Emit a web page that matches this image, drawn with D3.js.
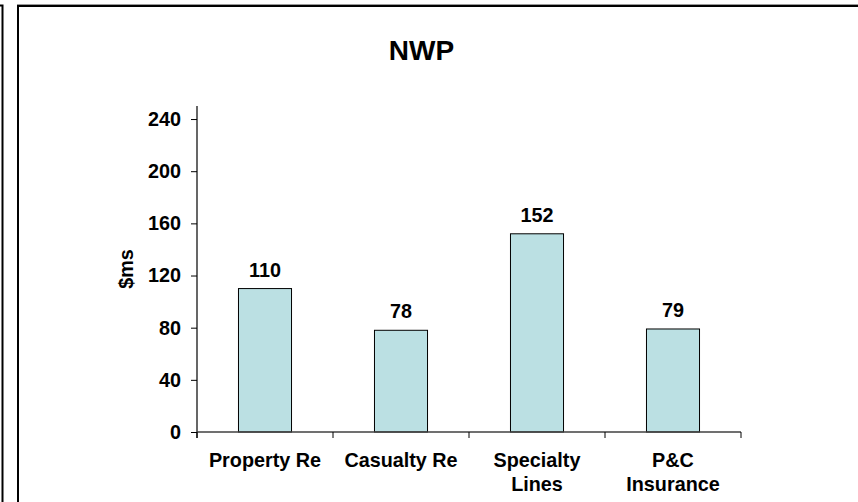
<!DOCTYPE html>
<html>
<head>
<meta charset="utf-8">
<script src="https://cdn.jsdelivr.net/npm/d3@7"></script>
<style>
  html, body { margin: 0; padding: 0; background: #fff; }
  svg { display: block; font-family: Arial, "Liberation Sans", Helvetica, sans-serif; }
</style>
</head>
<body>
<svg id="chart" width="858" height="502"></svg>
<script>
// Net written premiums by segment
const categories = ["Property Re", "Casualty Re", "Specialty Lines", "P&C Insurance"];
const categoryLines = [["Property Re"], ["Casualty Re"], ["Specialty", "Lines"], ["P&C", "Insurance"]];
const nwpValues = [110, 78, 152, 79];
const yTicks = [0, 40, 80, 120, 160, 200, 240];
const chartTitle = "NWP";
const yAxisTitle = "$ms";

const svg = d3.select("#chart");
const labelSize = 19.8;

// Frames: neighbouring panel edge and this panel's border
svg.append("path")
  .attr("d", "M0,5.5H2.5V502")
  .attr("fill", "none").attr("stroke", "#000").attr("stroke-width", 2);
svg.append("line")
  .attr("x1", 17).attr("x2", 858).attr("y1", 4.5).attr("y2", 4.5)
  .attr("stroke", "#999").attr("stroke-width", 1);
svg.append("path")
  .attr("d", "M18,502V6H858")
  .attr("fill", "none").attr("stroke", "#000").attr("stroke-width", 2);

const plot = { left: 197, right: 741, top: 106, bottom: 432 };

const x = d3.scaleBand()
  .domain(categories)
  .range([plot.left, plot.right])
  .paddingInner(0.61)
  .paddingOuter(0.305);

const y = d3.scaleLinear()
  .domain([0, 250])
  .range([plot.bottom, plot.top]);

// Title
svg.append("text")
  .attr("x", 421.5).attr("y", 60)
  .attr("text-anchor", "middle")
  .attr("font-size", 28).attr("font-weight", "bold")
  .text(chartTitle);

// Y axis
const yAxis = svg.append("g")
  .attr("transform", `translate(${plot.left},0)`)
  .call(d3.axisLeft(y).tickValues(yTicks).tickSize(6).tickPadding(10).tickFormat(d3.format("d")));
yAxis.select(".domain").remove();
yAxis.selectAll(".tick line").attr("stroke", "#000");
yAxis.selectAll(".tick text")
  .attr("font-size", labelSize).attr("font-weight", "bold")
  .attr("font-family", "Arial, 'Liberation Sans', sans-serif")
  .attr("fill", "#000");
svg.append("line")
  .attr("x1", plot.left).attr("x2", plot.left)
  .attr("y1", y(250)).attr("y2", y(0) + 6)
  .attr("stroke", "#000").attr("stroke-width", 1.2);

// Y axis title
svg.append("text")
  .attr("transform", `translate(133,${(plot.top + plot.bottom) / 2}) rotate(-90)`)
  .attr("text-anchor", "middle")
  .attr("font-size", labelSize).attr("font-weight", "bold")
  .text(yAxisTitle);

// Bars
svg.append("g").selectAll("rect")
  .data(categories)
  .join("rect")
  .attr("x", d => x(d))
  .attr("width", x.bandwidth())
  .attr("y", (d, i) => y(nwpValues[i]))
  .attr("height", (d, i) => y(0) - y(nwpValues[i]))
  .attr("fill", "#bbe0e3")
  .attr("stroke", "#000")
  .attr("stroke-width", 1);

// Value labels
svg.append("g").selectAll("text")
  .data(categories)
  .join("text")
  .attr("x", d => x(d) + x.bandwidth() / 2)
  .attr("y", (d, i) => y(nwpValues[i]) - 12)
  .attr("text-anchor", "middle")
  .attr("font-size", labelSize).attr("font-weight", "bold")
  .text((d, i) => nwpValues[i]);

// X axis line and category boundary ticks
svg.append("line")
  .attr("x1", plot.left).attr("x2", plot.right)
  .attr("y1", y(0)).attr("y2", y(0))
  .attr("stroke", "#404040").attr("stroke-width", 1.6);
const step = x.step();
const boundaries = categories.map(c => x(c) + x.bandwidth() / 2 - step / 2)
  .concat([x(categories[categories.length - 1]) + x.bandwidth() / 2 + step / 2]);
svg.append("g").selectAll("line")
  .data(boundaries)
  .join("line")
  .attr("x1", d => d).attr("x2", d => d)
  .attr("y1", y(0)).attr("y2", y(0) + 6)
  .attr("stroke", "#000").attr("stroke-width", 1);

// Category labels
const catLabels = svg.append("g").selectAll("text")
  .data(categories)
  .join("text")
  .attr("x", d => x(d) + x.bandwidth() / 2)
  .attr("y", 467)
  .attr("text-anchor", "middle")
  .attr("font-size", labelSize).attr("font-weight", "bold");
catLabels.each(function(d, i) {
  const t = d3.select(this);
  categoryLines[i].forEach((line, j) => {
    t.append("tspan")
      .attr("x", x(d) + x.bandwidth() / 2)
      .attr("dy", j === 0 ? 0 : 24)
      .text(line);
  });
});
</script>
</body>
</html>
